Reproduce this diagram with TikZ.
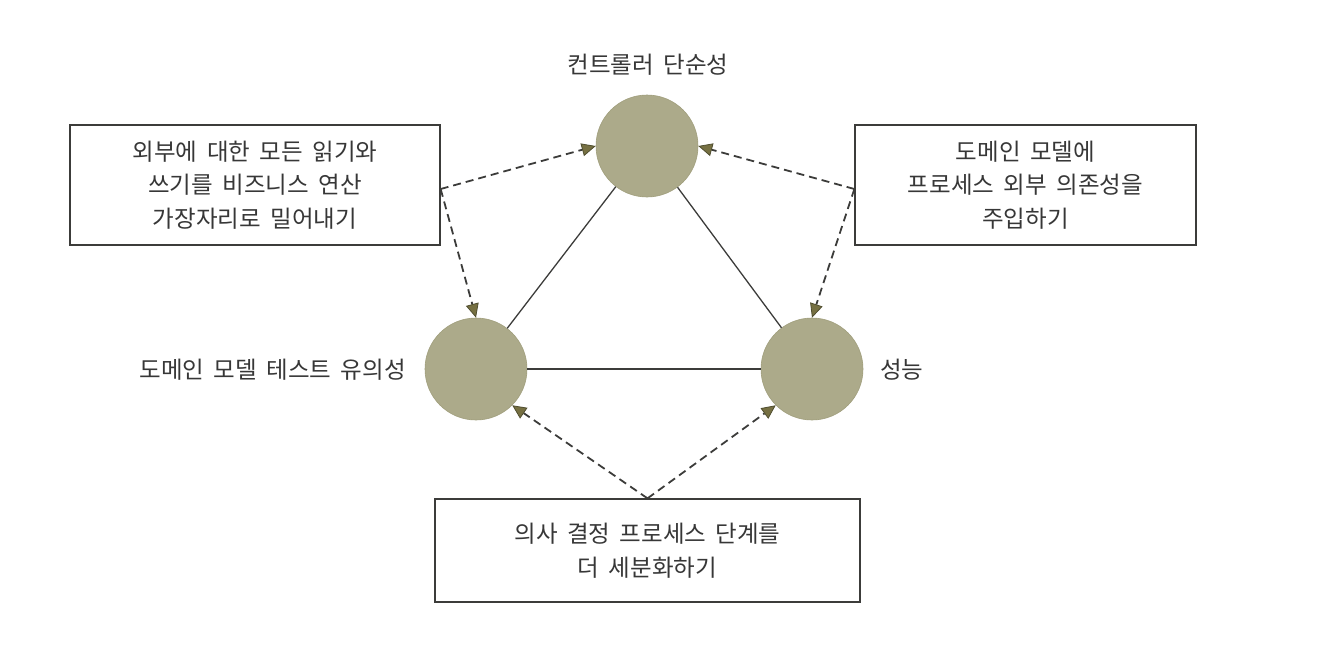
\documentclass[tikz,border=0pt]{standalone}
\usepackage{fontspec}
\setmainfont{Noto Sans CJK KR}[WordSpace=1.8]
\usetikzlibrary{arrows.meta}
\definecolor{circfill}{RGB}{172,170,138}
\definecolor{circline}{RGB}{160,158,124}
\definecolor{tipfill}{RGB}{118,112,66}
\definecolor{tipline}{RGB}{80,78,48}
\definecolor{linegray}{RGB}{60,60,58}
\definecolor{txt}{RGB}{55,55,55}
\tikzset{
  ball/.style={circle, fill=circfill, draw=circline, line width=0.6pt, minimum size=102pt, inner sep=0pt},
  boxnode/.style={draw=linegray, line width=1.3pt, inner sep=0pt, align=center, text=txt},
  lbl/.style={text=txt, inner sep=0pt},
  link/.style={draw=linegray, line width=1.3pt},
  dasharrow/.style={draw=linegray, line width=1.8pt, dash pattern=on 8pt off 5pt,
    -{Triangle[length=14pt,width=13pt,fill=tipfill,color=tipline,line width=0.8pt]}},
  every node/.append style={font=\fontsize{23.5}{33.5}\selectfont}
}
\begin{document}
\begin{tikzpicture}[x=1pt,y=-1pt]
\useasboundingbox (0,0) rectangle (1326,648);
% circles
\node[ball] (ctrl) at (647,146) {};
\node[ball] (dom) at (476,369) {};
\node[ball] (perf) at (812,369) {};
% labels
\node[lbl] (lctrl) at (648,65) {컨트롤러 단순성};
\node[lbl, anchor=east] (ldom) at (406,370) {도메인 모델 테스트 유의성};
\node[lbl, anchor=west] (lperf) at (880,370) {성능};
% boxes
\node[boxnode, minimum width=370pt, minimum height=120pt] (lbox) at (255,185)
  {외부에 대한 모든 읽기와\\쓰기를 비즈니스 연산\\가장자리로 밀어내기};
\node[boxnode, minimum width=341pt, minimum height=120pt] (rbox) at (1025.5,185)
  {도메인 모델에\\프로세스 외부 의존성을\\주입하기};
\node[boxnode, minimum width=425pt, minimum height=103pt] (bbox) at (647.5,550.5)
  {의사 결정 프로세스 단계를\\더 세분화하기};
% triangle edges
\draw[link] (ctrl) -- (dom);
\draw[link] (ctrl) -- (perf);
\draw[link] (dom) -- (perf);
% dashed arrows
\coordinate (lsrc) at ([yshift=-4pt]lbox.east);
\coordinate (rsrc) at ([yshift=-4pt]rbox.west);
\draw[dasharrow] (lsrc) -- (ctrl.west);
\draw[dasharrow] (lsrc) -- (dom.north);
\draw[dasharrow] (rsrc) -- (ctrl.east);
\draw[dasharrow] (rsrc) -- (perf.north);
\draw[dasharrow] (bbox.north) -- (dom.-45);
\draw[dasharrow] (bbox.north) -- (perf.225);
\end{tikzpicture}
\end{document}
